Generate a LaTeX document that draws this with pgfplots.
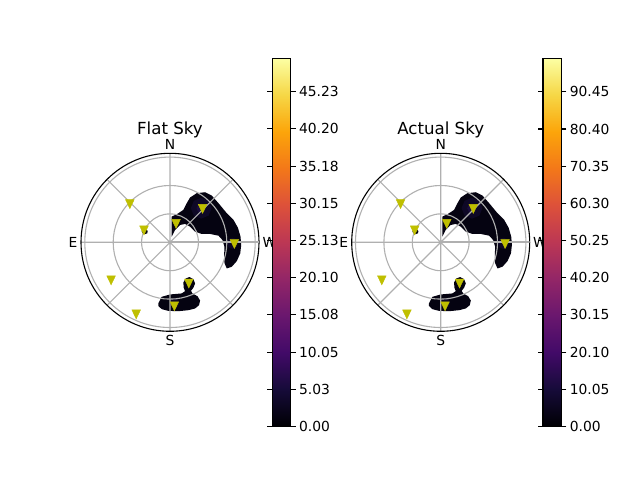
\documentclass[border=0pt]{standalone}
\usepackage{fontspec}
\setmainfont{DejaVu Sans}
\usepackage{pgfplots}
\pgfplotsset{compat=1.18}
\usepgfplotslibrary{polar}
\usepackage{pgfplotstable}

\definecolor{gridgray}{RGB}{176,176,176}
\definecolor{blobdark}{RGB}{5,3,17}
\definecolor{blobmid}{RGB}{14,8,38}
\definecolor{bloblight}{RGB}{26,12,60}
\definecolor{marky}{RGB}{191,191,0}

\pgfplotsset{colormap={inferno}{rgb255=(0,0,4) rgb255=(22,11,57) rgb255=(66,10,104) rgb255=(106,23,110) rgb255=(147,38,103) rgb255=(188,55,84) rgb255=(221,81,58) rgb255=(243,120,25) rgb255=(252,165,10) rgb255=(246,215,70) rgb255=(252,255,164)}}

\pgfplotstableread{
x y
1.8 6.0
1.8 27.2
7.1 29.6
14.1 34.2
17.7 41.3
21.2 47.3
28.2 51.9
37.1 52.9
44.1 49.4
51.2 41.3
60.0 30.7
67.1 23.6
71.7 15.5
74.5 6.0
75.2 -2.9
74.2 -11.7
70.6 -19.8
65.3 -25.8
60.0 -27.6
57.6 -22.3
57.2 -13.5
57.5 -4.6
55.4 2.4
51.2 7.0
42.4 8.8
33.5 8.8
26.5 11.3
21.2 16.5
15.9 19.4
10.6 18.3
5.3 13.0
1.8 6.0
}\bigblob

\pgfplotstableread{
x y
-12.4 -64.6
-8.8 -57.6
0.0 -55.1
12.4 -54.0
15.9 -51.6
14.5 -48.0
14.1 -42.4
16.6 -38.2
20.5 -36.7
24.7 -38.9
26.5 -43.5
24.7 -48.0
22.2 -51.2
23.7 -54.0
29.0 -56.9
31.8 -61.5
30.7 -66.4
26.5 -69.9
19.4 -71.7
8.8 -72.8
-1.8 -72.4
-8.8 -70.6
-12.4 -67.1
-12.4 -64.6
}\southblob

\pgfplotstableread{
x y
-30.0 12.0
-29.0 9.5
-26.5 8.6
-24.0 9.5
-23.5 12.0
-26.5 14.5
-30.0 12.0
}\eastblob

% brighter cores of the field around stations
\pgfplotstableread{
x y
44 36
40.8 43.8
33 47
25.2 43.8
22 36
25.2 28.2
33 25
40.8 28.2
44 36
}\glowA
\pgfplotstableread{
x y
38 36
36.5 39.5
33 41
29.5 39.5
28 36
29.5 32.5
33 31
36.5 32.5
38 36
}\glowAc
\pgfplotstableread{
x y
72 -1
70.2 3.2
66 5
61.8 3.2
60 -1
61.8 -5.2
66 -7
70.2 -5.2
72 -1
}\glowB
\pgfplotstableread{
x y
10 -64
8.5 -60.5
5 -59
1.5 -60.5
0 -64
1.5 -67.5
5 -69
8.5 -67.5
10 -64
}\glowC

\pgfplotstableread{
x y
-42.4 41.9
-27.5 14.1
6.4 21.0
34.4 36.9
68.0 -0.2
-62.2 -38.6
19.9 -42.0
4.6 -66.0
-35.7 -74.6
}\stations

\pgfplotsset{
  skypolar/.style={
    anchor=center,
    scale only axis, width=178bp, height=178bp,
    xmin=0, xmax=360,
    ymin=0, ymax=94,
    xtick={0,45,...,315},
    xticklabels={W,,N,,E,,S,},
    ytick={30,60,90}, yticklabels={},
    grid=major,
    major grid style={draw=gridgray, line width=1.1bp},
    axis line style={line width=1.1bp},
    y axis line style={draw=none},
    major tick length=0pt,
    tick label style={font=\fontsize{13.9}{16}\selectfont},
    axis on top,
  },
  skyover/.style={
    anchor=center,
    scale only axis, width=178bp, height=178bp,
    xmin=0, xmax=360,
    ymin=0, ymax=94,
    hide axis,
  },
  cbar/.style={
    anchor=south west,
    scale only axis, width=18.4bp, height=368.2bp,
    xmin=0, xmax=1, ymin=0,
    xtick=\empty,
    yticklabel pos=right,
    tick align=outside,
    major tick length=4.9bp,
    tick style={black, line width=1.1bp},
    axis line style={line width=1.1bp},
    view={0}{90},
    colormap name=inferno,
    point meta min=0,
    tick label style={font=\fontsize{13.9}{16}\selectfont},
  },
}

\newcommand{\skyfield}{%
\addplot[data cs=cart, fill=blobdark, draw=none] table {\bigblob};
\addplot[data cs=cart, fill=blobdark, draw=none] table {\southblob};
\addplot[data cs=cart, fill=blobdark, draw=none] table {\eastblob};
\addplot[data cs=cart, fill=blobmid, draw=none] table {\glowA};
\addplot[data cs=cart, fill=bloblight, draw=none] table {\glowAc};
\addplot[data cs=cart, fill=blobmid, draw=none] table {\glowB};
\addplot[data cs=cart, fill=blobmid, draw=none] table {\glowC};
}
\newcommand{\skystations}{%
% the 0-degree (W) grid ray, redrawn in grid colour over the radial axis line
\addplot[gridgray, line width=1.6bp] coordinates {(0,0) (0,94)};
\addplot[data cs=cart, only marks, mark=triangle*, mark size=5bp,
  mark options={rotate=180, yscale=1.2, fill=marky, draw=marky}, color=marky] table {\stations};
}

\begin{document}
\begin{tikzpicture}
\path[use as bounding box] (0,0) rectangle (640bp,480bp);

% ---------- Flat Sky ----------
\begin{polaraxis}[skypolar, at={(170bp,237.7bp)}]
\skyfield
\end{polaraxis}
\begin{polaraxis}[skyover, at={(170bp,237.7bp)}]
\skystations
\end{polaraxis}
\node[anchor=base, font=\fontsize{16.7}{20}\selectfont] at (170bp,345bp) {Flat Sky};

\begin{axis}[cbar, at={(272.3bp,53.5bp)}, ymax=49.75, point meta max=49.75,
  ytick={0,5.0256,10.0512,15.0768,20.1024,25.128,30.1536,35.1792,40.2048,45.2304},
  yticklabels={0.00,5.03,10.05,15.08,20.10,25.13,30.15,35.18,40.20,45.23}]
\addplot3[surf, shader=interp, point meta=y] coordinates {
(0,0,0) (1,0,0)

(0,12.4375,0) (1,12.4375,0)

(0,24.875,0) (1,24.875,0)

(0,37.3125,0) (1,37.3125,0)

(0,49.75,0) (1,49.75,0)
};
\end{axis}

% ---------- Actual Sky ----------
\begin{polaraxis}[skypolar, at={(440.7bp,237.7bp)}]
\skyfield
\end{polaraxis}
\begin{polaraxis}[skyover, at={(440.7bp,237.7bp)}]
\skystations
\end{polaraxis}
\node[anchor=base, font=\fontsize{16.7}{20}\selectfont] at (440.7bp,345bp) {Actual Sky};

\begin{axis}[cbar, at={(543bp,53.5bp)}, ymax=99.5, point meta max=99.5,
  ytick={0,10.05,20.10,30.15,40.20,50.25,60.30,70.35,80.40,90.45},
  yticklabels={0.00,10.05,20.10,30.15,40.20,50.25,60.30,70.35,80.40,90.45}]
\addplot3[surf, shader=interp, point meta=y] coordinates {
(0,0,0) (1,0,0)

(0,24.875,0) (1,24.875,0)

(0,49.75,0) (1,49.75,0)

(0,74.625,0) (1,74.625,0)

(0,99.5,0) (1,99.5,0)
};
\end{axis}
\end{tikzpicture}
\end{document}
